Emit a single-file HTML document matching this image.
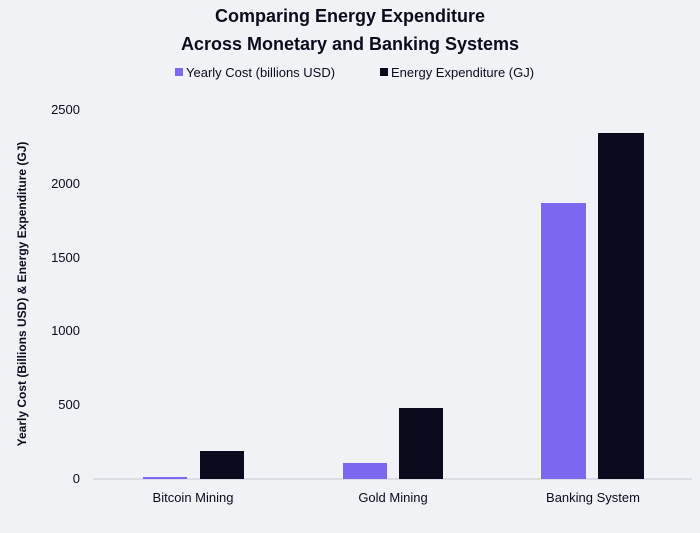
<!DOCTYPE html>
<html><head><style>
body{margin:0;background:#f1f2f6;}
svg{display:block;font-family:"Liberation Sans",sans-serif;}
</style></head><body>
<svg width="700" height="533" xmlns="http://www.w3.org/2000/svg">
<rect width="700" height="533" fill="#f1f2f6"/>
<text x="350" y="22" text-anchor="middle" font-size="18" font-weight="bold" fill="#0b0b1e">Comparing Energy Expenditure</text>
<text x="350" y="50" text-anchor="middle" font-size="18" font-weight="bold" fill="#0b0b1e">Across Monetary and Banking Systems</text>
<rect x="175" y="68" width="8" height="8" fill="#7b68ee"/>
<text x="186" y="77" font-size="13" fill="#0b0b1e">Yearly Cost (billions USD)</text>
<rect x="380" y="68" width="8" height="8" fill="#0b0b1e"/>
<text x="391" y="77" font-size="13" fill="#0b0b1e">Energy Expenditure (GJ)</text>
<g font-size="13" fill="#0b0b1e" text-anchor="end">
<text x="80" y="483">0</text>
<text x="80" y="409">500</text>
<text x="80" y="335">1000</text>
<text x="80" y="262">1500</text>
<text x="80" y="188">2000</text>
<text x="80" y="114">2500</text>
</g>
<text transform="translate(26,294) rotate(-90)" text-anchor="middle" font-size="12" font-weight="bold" fill="#0b0b1e">Yearly Cost (Billions USD) &amp; Energy Expenditure (GJ)</text>
<line x1="93" y1="479" x2="692" y2="479" stroke="#c8c8d4" stroke-width="1"/>
<rect x="143" y="477" width="44" height="2" fill="#7b68ee"/>
<rect x="200" y="451" width="44" height="28" fill="#0b0b1e"/>
<rect x="343" y="463" width="44" height="16" fill="#7b68ee"/>
<rect x="399" y="408" width="44" height="71" fill="#0b0b1e"/>
<rect x="541" y="203" width="45" height="276" fill="#7b68ee"/>
<rect x="598" y="133" width="46" height="346" fill="#0b0b1e"/>
<g font-size="13" fill="#0b0b1e" text-anchor="middle">
<text x="193" y="502">Bitcoin Mining</text>
<text x="393" y="502">Gold Mining</text>
<text x="593" y="502">Banking System</text>
</g>
</svg>
</body></html>
